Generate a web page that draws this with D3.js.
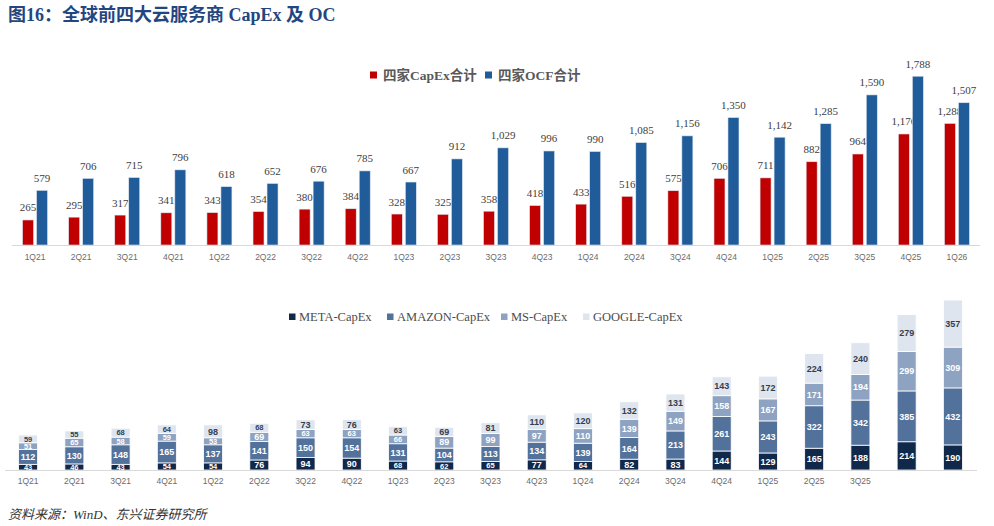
<!DOCTYPE html>
<html>
<head>
<meta charset="utf-8">
<script src="https://cdn.jsdelivr.net/npm/d3@7"></script>
<style>
  body { margin: 0; background: #fff; }
  svg { display: block; }
</style>
</head>
<body>
<svg id="chart" width="994" height="526"></svg>
<script>
// Quarters shared by both panels
const quarters = ['1Q21','2Q21','3Q21','4Q21','1Q22','2Q22','3Q22','4Q22','1Q23','2Q23','3Q23',
  '4Q23','1Q24','2Q24','3Q24','4Q24','1Q25','2Q25','3Q25','4Q25','1Q26'];

// Top panel: combined CapEx and OCF
const capexTotal = [265,295,317,341,343,354,380,384,328,325,358,418,433,516,575,706,711,882,964,1176,1288];
const ocfTotal = [579,706,715,796,618,652,676,785,667,912,1029,996,990,1085,1156,1350,1142,1285,1590,1788,1507];

// Bottom panel: CapEx by company
const metaCapex = [43,46,43,54,54,76,94,90,68,62,65,77,64,82,83,144,129,165,188,214,190];
const amazonCapex = [112,130,148,165,137,141,150,154,131,104,113,134,139,164,213,261,243,322,342,385,432];
const msCapex = [51,65,58,59,53,69,63,63,66,89,99,97,110,139,149,158,167,171,194,299,309];
const googleCapex = [59,55,68,64,98,68,73,76,63,69,81,110,120,132,131,143,172,224,240,279,357];
// bottom axis only labels up to 3Q25 in the source
const bottomTicks = quarters.slice(0, 19);

const svg = d3.select('#chart');
const serif = '"Liberation Serif", "Noto Sans CJK SC", serif';
const sans = '"Liberation Sans", Arial, sans-serif';
const fmt = d3.format(',');

// Title
svg.append('text')
  .attr('x', 8).attr('y', 21)
  .attr('font-family', serif)
  .attr('font-size', 18).attr('font-weight', 'bold')
  .attr('fill', '#24467f')
  .text('图16：全球前四大云服务商 CapEx 及 OC');

// ---------- Top panel ----------
const xTop = d3.scaleBand().domain(quarters).range([12, 980]);
const yTop = d3.scaleLinear().domain([0, 2000]).range([245, 56.2]);
const barW = 11, gap = 3;

const topPanel = svg.append('g');
const groups = topPanel.selectAll('g.q').data(quarters).join('g')
  .attr('class', 'q')
  .attr('transform', d => 'translate(' + (xTop(d) + xTop.bandwidth() / 2) + ',0)');

const series = [
  {vals: capexTotal, color: '#c00000', dx: -barW - gap / 2},
  {vals: ocfTotal, color: '#1f5c99', dx: gap / 2}
];
series.forEach(s => {
  groups.append('rect')
    .attr('x', s.dx)
    .attr('y', (d, i) => yTop(s.vals[i]))
    .attr('width', barW)
    .attr('height', (d, i) => yTop(0) - yTop(s.vals[i]))
    .attr('fill', s.color)
    .attr('stroke', '#dfe7f0').attr('stroke-width', 0.6);
  groups.append('text')
    .attr('x', s.dx + barW / 2)
    .attr('y', (d, i) => yTop(s.vals[i]) - 8.5)
    .attr('text-anchor', 'middle')
    .attr('font-family', serif).attr('font-size', 11)
    .attr('fill', '#404040')
    .text((d, i) => fmt(s.vals[i]));
});

// axis
topPanel.append('line')
  .attr('x1', 12).attr('x2', 980).attr('y1', 245.5).attr('y2', 245.5)
  .attr('stroke', '#d9d9d9').attr('stroke-width', 1);
topPanel.selectAll('text.xl').data(quarters).join('text')
  .attr('class', 'xl')
  .attr('x', d => xTop(d) + xTop.bandwidth() / 2)
  .attr('y', 260)
  .attr('text-anchor', 'middle')
  .attr('font-family', sans).attr('font-size', 8.5)
  .attr('fill', '#6b6b6b')
  .text(d => d);

// legend
const topLegend = [
  {label: '四家CapEx合计', color: '#c00000', x: 370},
  {label: '四家OCF合计', color: '#1f5c99', x: 485}
];
topLegend.forEach(l => {
  topPanel.append('rect').attr('x', l.x).attr('y', 71.5).attr('width', 7).attr('height', 7).attr('fill', l.color);
  topPanel.append('text').attr('x', l.x + 13).attr('y', 80)
    .attr('font-family', serif).attr('font-size', 13.5).attr('font-weight', 'bold')
    .attr('fill', '#595959').text(l.label);
});

// ---------- Bottom panel ----------
const keys = ['meta', 'amazon', 'ms', 'google'];
const rows = quarters.map((q, i) => ({
  q: q, meta: metaCapex[i], amazon: amazonCapex[i], ms: msCapex[i], google: googleCapex[i]
}));
const stack = d3.stack().keys(keys)(rows);

const xBot = d3.scaleBand().domain(quarters).range([5, 976]);
const yBot = d3.scaleLinear().domain([0, 1288]).range([470, 300]);
const color = d3.scaleOrdinal().domain(keys).range(['#10284a', '#52719b', '#8ea3c1', '#dfe5ee']);
const labelColor = d3.scaleOrdinal().domain(keys).range(['#ffffff', '#ffffff', '#ffffff', '#333f50']);
const stackW = 19;

const bottomPanel = svg.append('g');
const layers = bottomPanel.selectAll('g.layer').data(stack).join('g').attr('class', 'layer');
layers.selectAll('rect').data(d => d).join('rect')
  .attr('x', d => xBot(d.data.q) + xBot.bandwidth() / 2 - stackW / 2)
  .attr('y', d => yBot(d[1]))
  .attr('width', stackW)
  .attr('height', d => yBot(d[0]) - yBot(d[1]))
  .attr('fill', function() { return color(d3.select(this.parentNode).datum().key); })
  .attr('stroke', '#ffffff').attr('stroke-width', 0.8);
// small segments get a smaller label so the stacks stay readable
layers.selectAll('text').data(d => d).join('text')
  .attr('x', d => xBot(d.data.q) + xBot.bandwidth() / 2)
  .attr('y', d => {
    const h = yBot(d[0]) - yBot(d[1]);
    return (yBot(d[0]) + yBot(d[1])) / 2 + (h < 9 ? 2.6 : 3.2);
  })
  .attr('text-anchor', 'middle')
  .attr('font-family', sans).attr('font-weight', 'bold')
  .attr('font-size', d => (yBot(d[0]) - yBot(d[1]) < 9 ? 7.5 : 9))
  .attr('fill', function() { return labelColor(d3.select(this.parentNode).datum().key); })
  .text(d => d[1] - d[0]);

bottomPanel.append('line')
  .attr('x1', 5).attr('x2', 977).attr('y1', 470.5).attr('y2', 470.5)
  .attr('stroke', '#d9d9d9').attr('stroke-width', 1);
bottomPanel.selectAll('text.xl').data(bottomTicks).join('text')
  .attr('class', 'xl')
  .attr('x', d => xBot(d) + xBot.bandwidth() / 2)
  .attr('y', 484)
  .attr('text-anchor', 'middle')
  .attr('font-family', sans).attr('font-size', 8.5)
  .attr('fill', '#6b6b6b')
  .text(d => d);

const botLegend = [
  {label: 'META-CapEx', key: 'meta', x: 289},
  {label: 'AMAZON-CapEx', key: 'amazon', x: 387},
  {label: 'MS-CapEx', key: 'ms', x: 501},
  {label: 'GOOGLE-CapEx', key: 'google', x: 583}
];
botLegend.forEach(l => {
  bottomPanel.append('rect').attr('x', l.x).attr('y', 313.5).attr('width', 6.5).attr('height', 6.5).attr('fill', color(l.key));
  bottomPanel.append('text').attr('x', l.x + 10).attr('y', 320.5)
    .attr('font-family', serif).attr('font-size', 12.5)
    .attr('fill', '#4d4d4d').text(l.label);
});

// Source note
svg.append('text')
  .attr('x', 8).attr('y', 519)
  .attr('font-family', serif).attr('font-size', 13).attr('font-style', 'italic')
  .attr('fill', '#333333')
  .text('资料来源：WinD、东兴证券研究所');
</script>
</body>
</html>
